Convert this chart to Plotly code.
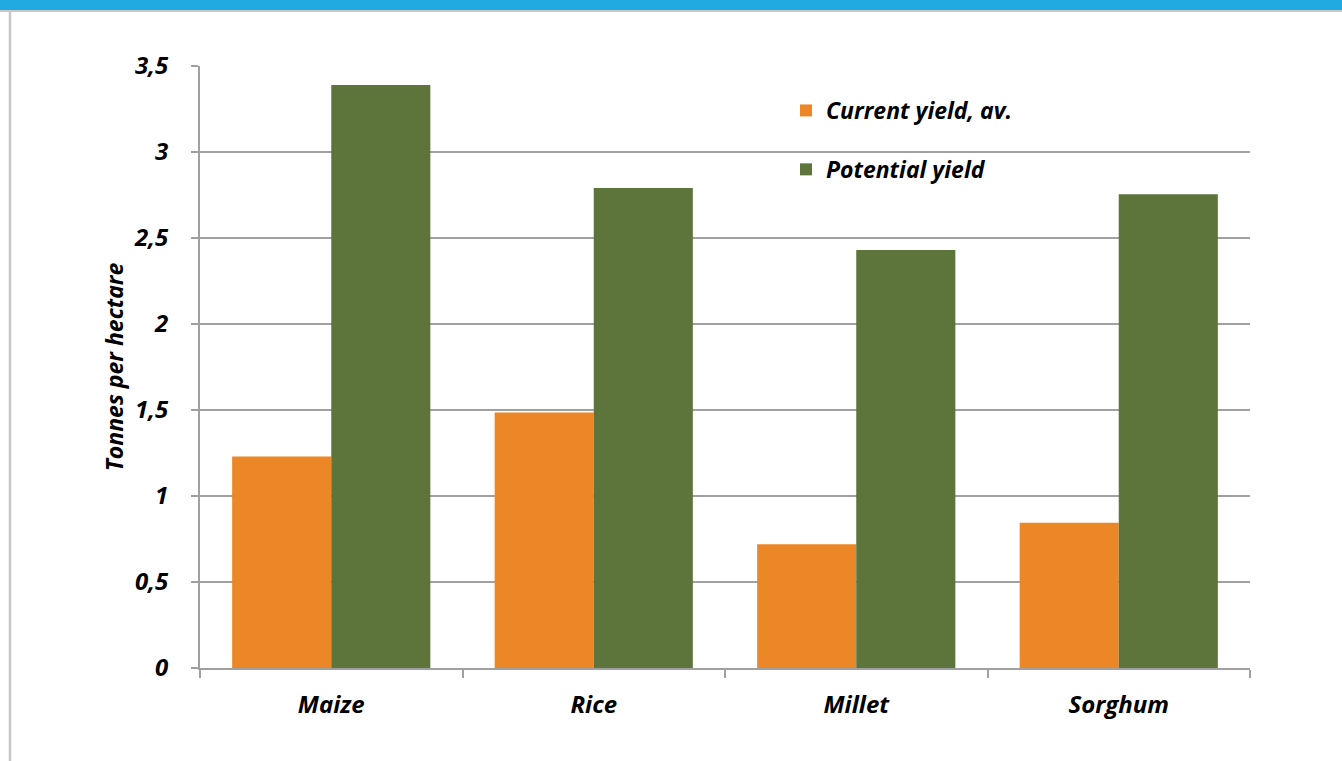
import plotly.graph_objects as go

categories = ["Maize", "Rice", "Millet", "Sorghum"]
current_yield = [1.23, 1.485, 0.72, 0.845]
potential_yield = [3.39, 2.79, 2.43, 2.755]
y_tick_vals = [0, 0.5, 1, 1.5, 2, 2.5, 3, 3.5]
y_tick_text = ["0", "0,5", "1", "1,5", "2", "2,5", "3", "3,5"]

W, H = 1342, 761
L, R, T, B = 200, 1250, 66, 668
PW, PH = R - L, B - T

def px(x):
    return (x - L) / PW

def py(y):
    return (B - y) / PH

FONT = "Open Sans"
ORANGE = "#EC8727"
GREEN = "#5D743B"
GRID = "#A0A0A0"

def f(size):
    return dict(family=FONT, size=size, style="italic", weight="bold", color="black")

fig = go.Figure()
fig.add_trace(go.Bar(x=categories, y=current_yield, name="Current yield, av.",
                     marker=dict(color=ORANGE, line=dict(width=0)), legendgroup="a"))
fig.add_trace(go.Bar(x=categories, y=potential_yield, name="Potential yield",
                     marker=dict(color=GREEN, line=dict(width=0)), legendgroup="b"))

shapes = [
    dict(type="rect", xref="paper", yref="paper", x0=px(0), x1=px(W), y0=py(10), y1=py(-2),
         fillcolor="#21A9E1", line=dict(width=0), layer="above"),
    dict(type="line", xref="paper", yref="paper", x0=px(0), x1=px(W), y0=py(11), y1=py(11),
         line=dict(color="#C8C8C8", width=2)),
    dict(type="line", xref="paper", yref="paper", x0=px(10), x1=px(10), y0=py(11), y1=py(761),
         line=dict(color="#C8C8C8", width=2.5)),
]

fig.update_layout(
    width=W, height=H,
    margin=dict(l=L, r=W - R, t=T, b=H - B, pad=0),
    paper_bgcolor="white", plot_bgcolor="white",
    barmode="group", bargap=0.245, bargroupgap=0,
    font=dict(family=FONT, color="black"),
    showlegend=True,
    legend=dict(x=px(786), y=py(89), xanchor="left", yanchor="top",
                bgcolor="rgba(0,0,0,0)", tracegroupgap=26,
                font=f(23), itemwidth=30),
    shapes=shapes,
    xaxis=dict(showline=True, linecolor=GRID, linewidth=2, ticks="outside", ticklen=8,
               tickcolor=GRID, tickwidth=2, tickson="boundaries",
               tickfont=f(24), ticklabelstandoff=14,
               showgrid=False, fixedrange=True),
    yaxis=dict(range=[0, 3.5], tickvals=y_tick_vals, ticktext=y_tick_text,
               showline=True, linecolor=GRID, linewidth=2, ticks="outside", ticklen=7,
               tickcolor=GRID, tickwidth=2, showgrid=True, gridcolor=GRID, gridwidth=2,
               zeroline=False, ticklabelstandoff=18,
               tickfont=f(24),
               title=dict(text="Tonnes per hectare", standoff=4, font=f(23))),
)

fig.write_html("out.html")
